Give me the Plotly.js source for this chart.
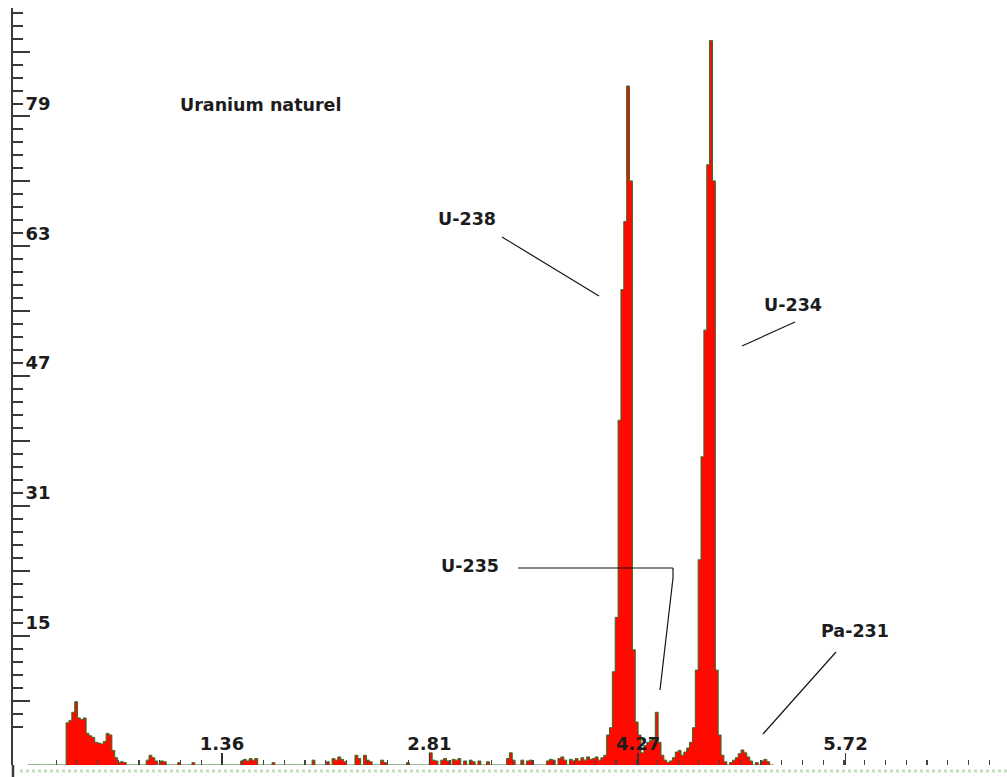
<!DOCTYPE html>
<html>
<head>
<meta charset="utf-8">
<script src="https://cdn.plot.ly/plotly-3.0.1.min.js"></script>
<style>html,body{margin:0;padding:0;background:#fff;}#chart{width:1007px;height:777px;}</style>
</head>
<body>
<div id="chart"></div>
<script>
// ---- data: alpha spectrum, channels of 0.02 MeV starting at 0 MeV ----
const channelStart = 0;      // MeV
const channelWidth = 0.02;   // MeV
const counts = [
  0,0,0,0,0,0,0,0,0,0,
  0,0,0,0,5.2,5.5,6.5,7.8,5.8,5.6,
  5.8,3.9,3.6,3.4,2.8,2.7,2.6,2.9,3.9,3.7,
  1.8,0.9,0.3,0.4,0.3,0,0,0,0,0,
  0,0,0.6,1.2,0.9,0.5,0,0.5,0.4,0,
  0,0,0,0.3,0,0,0,0,0.3,0,
  0,0,0,0,0,0,0,0,0,0,
  0,0,0,0,0,0.5,0.7,0.5,0.8,0.6,
  0.8,0,0,0,0,0,0.3,0,0,0,
  0,0,0,0,0,0,0,0,0,0,
  0.6,0,0,0,0,0.4,0,0.8,0.6,1.0,
  0.7,0.4,0,0,0,1.2,0.8,0,1.2,0.6,
  0.4,0,0,0,0.6,0.3,0,0,0,0,
  0,0,0,0.3,0,0,0,0,0,0,
  0,1.5,0.6,0.5,0,0.6,0.8,0.5,0,0.7,
  0.6,0.8,0,0.5,0,0.6,0.4,0,0.5,0,
  0,0.4,0,0,0,0,0,0,0.8,1.5,
  0.6,0,0,0.6,0,0.5,0.6,0,0,0,
  0,0,0.5,0.7,0.6,0,0.8,1.0,0.6,0,
  0.7,0.5,0.8,0.5,0.9,0.6,1.0,0.7,0.8,1.0,
  0.6,0.9,1.2,3.7,4.6,11.5,18.2,42.5,58.6,67,
  83.7,72,14.2,5.3,3.7,1.5,2.4,2.8,3.0,3.3,
  6.5,2.8,1.2,0.6,0.3,0.5,0.9,1.6,1.8,1.2,
  1.6,2.1,2.8,4.6,11.7,25.3,38,53.6,74,89.3,
  72,11.7,3.7,1.2,0.4,0,0.3,0.6,0.9,1.4,
  1.85,1.5,1.0,0.5,0,0.3,0,0.5,0.7,0.4,
  0,0
];
const xTickVals = [1.36, 2.81, 4.27, 5.72];
const xTickText = ['1.36', '2.81', '4.27', '5.72'];
const yTickVals = [15, 31, 47, 63, 79];
const yTickText = ['15', '31', '47', '63', '79'];
const chartTitle = 'Uranium naturel';
const peakLabels = ['U-238', 'U-234', 'U-235', 'Pa-231'];

// ---- layout geometry (pixels) ----
const W = 1007, H = 777, L = 13, T = 8, BASE = 765;
const pxX = p => (p - L) / (W - L);
const pxY = p => (BASE - p) / (BASE - T);
const FONT = 'DejaVu Sans, Verdana, sans-serif';
const INK = '#1c1c1c';
const bold = s => '<b>' + s + '</b>';

function label(text, cx, cy) {
  return {text: bold(text), xref: 'paper', yref: 'paper', x: pxX(cx), y: pxY(cy),
    xanchor: 'center', yanchor: 'middle', showarrow: false,
    font: {family: FONT, size: 17.5, color: INK}};
}
function seg(x0, y0, x1, y1, color, width, dash) {
  return {type: 'line', xref: 'paper', yref: 'paper',
    x0: pxX(x0), y0: pxY(y0), x1: pxX(x1), y1: pxY(y1),
    line: {color: color || '#151515', width: width || 1.2, dash: dash || 'solid'}};
}

const spectrum = {
  type: 'scatter', mode: 'lines',
  x0: channelStart, dx: channelWidth, y: counts,
  yaxis: 'y2',
  line: {shape: 'hvh', color: '#2e6e28', width: 1},
  fill: 'tozeroy', fillcolor: '#ff0a00',
  hoverinfo: 'skip', showlegend: false
};
const axisHolder = {type: 'scatter', x: [], y: [], showlegend: false, hoverinfo: 'skip'};
const longTicksHolder = {type: 'scatter', x: [], y: [], yaxis: 'y3', showlegend: false, hoverinfo: 'skip'};

// pixel scale: 8.1125 px per unit on the labelled axis, value 0 at 744.4 px
const SC = 8.1125, Y0PX = 744.4;
const yRange = [(Y0PX - BASE) / SC, (Y0PX - T) / SC];
const y2Range = [0, (BASE - T) / SC];
const xScale = 143, x0px = 27.5;
const xRange = [(L - x0px) / xScale, (W - x0px) / xScale];

const layout = {
  width: W, height: H,
  margin: {l: L, r: 0, t: T, b: H - BASE, pad: 0},
  paper_bgcolor: '#ffffff', plot_bgcolor: '#ffffff',
  showlegend: false,
  font: {family: FONT, color: INK},
  xaxis: {
    range: xRange,
    showgrid: false, zeroline: false, showline: false,
    tickmode: 'array', tickvals: xTickVals, ticktext: xTickText.map(bold),
    ticks: 'inside', ticklen: 12, tickwidth: 1.5, tickcolor: '#333',
    ticklabelposition: 'inside',
    tickfont: {family: FONT, size: 18, color: INK},
    minor: {tick0: 1.36, dtick: 0.145, ticks: 'inside', ticklen: 5, tickwidth: 1.2, tickcolor: '#444', showgrid: false}
  },
  yaxis: {
    range: yRange, showgrid: false, zeroline: false,
    showline: true, linecolor: '#3a3a3a', linewidth: 2.5,
    tickmode: 'array', tickvals: yTickVals, ticktext: yTickText.map(bold),
    ticks: 'inside', ticklen: 10, tickwidth: 2, tickcolor: '#3a3a3a',
    ticklabelposition: 'inside', ticklabelstandoff: 3,
    tickfont: {family: FONT, size: 18, color: INK},
    minor: {tick0: 15, dtick: 1.6, ticks: 'inside', ticklen: 10, tickwidth: 2, tickcolor: '#3a3a3a', showgrid: false}
  },
  yaxis2: {range: y2Range, overlaying: 'y', anchor: 'x', visible: false, showgrid: false, zeroline: false},
  yaxis3: {
    range: yRange, overlaying: 'y', anchor: 'x', side: 'left',
    showgrid: false, zeroline: false, showline: false, showticklabels: false,
    tickmode: 'linear', tick0: 5.4, dtick: 8,
    ticks: 'inside', ticklen: 17, tickwidth: 2, tickcolor: '#3a3a3a'
  },
  annotations: [
    label(chartTitle, 260, 105),
    label(peakLabels[0], 467, 219),
    label(peakLabels[1], 793, 305),
    label(peakLabels[2], 470, 566),
    label(peakLabels[3], 855, 631)
  ],
  shapes: [
    seg(502, 237, 599, 296),
    seg(795, 322, 742, 346),
    seg(518, 568, 673, 568),
    seg(673, 568, 673, 578),
    seg(673, 578, 660, 690),
    seg(836, 652, 763, 734),
    seg(13, 765, 13, 777, '#3a3a3a', 2.5),
    seg(20, 771, 1007, 771, '#c3dfbb', 3, 'dot')
  ]
};

Plotly.newPlot('chart', [spectrum, axisHolder, longTicksHolder], layout, {staticPlot: true, displayModeBar: false});
</script>
</body>
</html>
